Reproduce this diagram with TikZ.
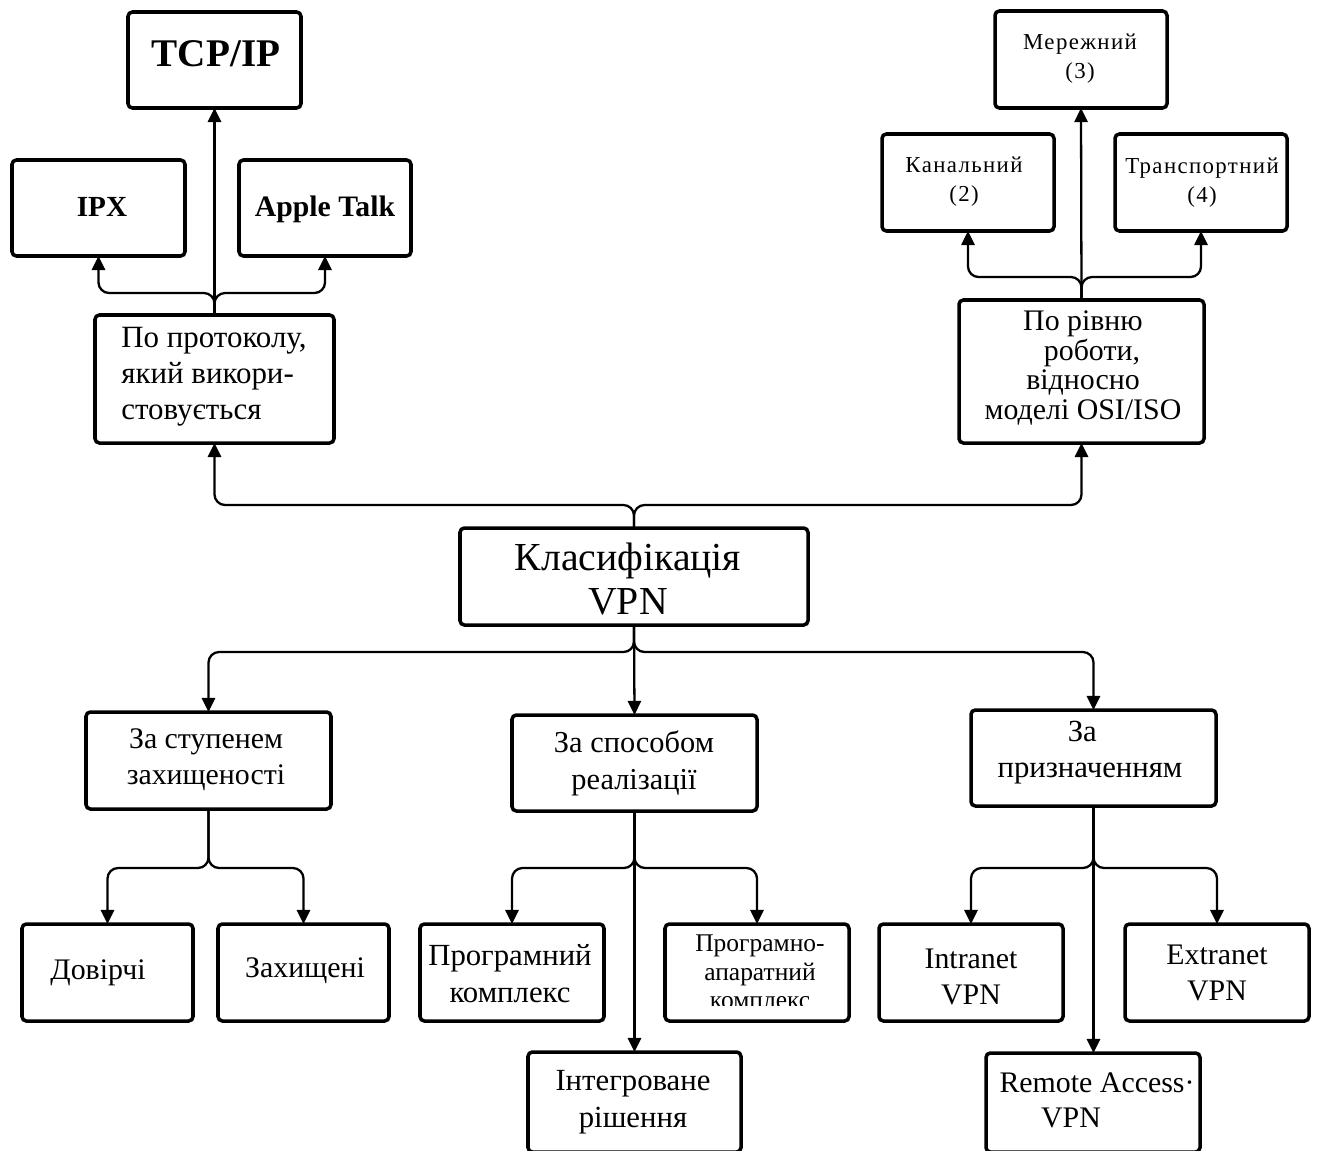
\documentclass[tikz,border=0pt]{standalone}
\usepackage{fontspec}
\setmainfont{Liberation Serif}
\newfontfamily\widefont[LetterSpace=6]{Liberation Serif}
\usetikzlibrary{arrows.meta}

\tikzset{
  box/.style 2 args={draw, line width=2pt, rounded corners=2.5pt, inner sep=0pt,
    outer sep=0pt, minimum width=#1*0.02cm, minimum height=#2*0.02cm},
  conn/.style={line width=1.3pt, rounded corners=6pt},
  arr/.style={conn, -{Triangle[length=8pt,width=7.5pt]}},
  txt/.style={inner sep=0pt, align=center, font=\fontsize{17}{20.5}\selectfont},
  smalltxt/.style={inner sep=0pt, align=center, font=\widefont\fontsize{13}{16.5}\selectfont},
}

\begin{document}
\begin{tikzpicture}[x=0.02cm, y=-0.02cm]
\clip (0,0) rectangle (1319,1150);
\fill[white] (0,0) rectangle (1319,1150);

% --- boxes ---
\node[box={173}{96}]  (tcp)    at (214.5,60)   {};
\node[box={173}{96}]  (ipx)    at (98.5,208)   {};
\node[box={172}{96}]  (apple)  at (325,208)    {};
\node[box={239}{128}] (proto)  at (214.5,379)  {};
\node[box={172}{97}]  (mer)    at (1081,59.5)  {};
\node[box={172}{97}]  (kan)    at (968,182.5)  {};
\node[box={172}{97}]  (trans)  at (1201,182.5) {};
\node[box={245}{143}] (osi)    at (1081.5,371.5) {};
\node[box={348}{97}]  (root)   at (634,576.5)  {};
\node[box={245}{97}]  (sec)    at (208.5,760.5) {};
\node[box={245}{96}]  (impl)   at (634.5,763)  {};
\node[box={245}{96}]  (purp)   at (1093.5,758) {};
\node[box={171}{97}]  (trust)  at (107.5,972.5) {};
\node[box={171}{97}]  (prot)   at (303.5,972.5) {};
\node[box={184}{97}]  (soft)   at (512,972.5)  {};
\node[box={184}{97}]  (hw)     at (757,972.5)  {};
\node[box={213}{100}] (integ)  at (634.5,1102) {};
\node[box={184}{97}]  (intra)  at (971,972.5)  {};
\node[box={184}{97}]  (extra)  at (1217,972.5) {};
\node[box={214}{99}]  (remote) at (1093,1102.5) {};

% --- labels ---
\node[txt, font=\bfseries\fontsize{22.3}{26}\selectfont] (tcpT) at (216,54) {TCP/IP};
\node[txt, font=\bfseries\fontsize{16.6}{20}\selectfont] (ipxT) at (102,207) {IPX};
\node[txt, font=\bfseries\fontsize{16.9}{20}\selectfont] (appleT) at (325,209) {Apple Talk};
\node[txt, align=left, anchor=west, font=\fontsize{17.6}{20.5}\selectfont] (protoT) at (121,377)
  {По протоколу,\\який викори-\\стовується};

\node[smalltxt] (merT)   at (1080,59)  {Мережний\\(3)};
\node[smalltxt] (kanT)   at (964,182)  {Канальний\\(2)};
\node[smalltxt] (transT) at (1202,183) {Транспортний\\(4)};
\node[txt, font=\fontsize{17}{16.8}\selectfont] (osiT) at (1083,368)
  {По рівню\\\hspace*{0.6em}роботи,\\відносно\\моделі OSI/ISO};

\node[txt, font=\fontsize{22.6}{24.5}\selectfont] (rootT) at (628,579) {Класифікація\\VPN};

\node[txt] (secT)  at (206,760) {За ступенем\\захищеності};
\node[txt, font=\fontsize{17.3}{21}\selectfont] (implT) at (634,763) {За способом\\реалізації};
\node[txt, font=\fontsize{17.5}{20.5}\selectfont] (purpT) at (1090,753) {\hspace*{-0.5em}За\\призначенням};

\node[txt] (trustT) at (98,973) {Довірчі};
\node[txt] (protT)  at (305,971) {Захищені};
\node[txt, font=\fontsize{17.5}{21}\selectfont] (softT) at (510,974) {Програмний\\комплекс};
\begin{scope}
  \clip (667,926) rectangle (847,1005);
  \node[txt, font=\fontsize{14.5}{16.2}\selectfont] (hwT) at (760,972)
    {Програмно-\\апаратний\\комплекс};
\end{scope}
\node[txt, font=\fontsize{17.5}{21}\selectfont] (integT) at (633,1102) {Інтегроване\\рішення};
\node[txt] (intraT) at (971,977) {Intranet\\VPN};
\node[txt] (extraT) at (1217,973) {Extranet\\VPN};
\node[txt] (remT1) at (1097,1083) {Remote Access·};
\node[txt] (remT2) at (1071,1118) {VPN};

% --- connectors: protocol branch ---
\draw[arr] (proto.north) -- (tcp.south);
\draw[arr] (proto.north) -- ++(0,-22) -| (ipx.south);
\draw[arr] (proto.north) -- ++(0,-22) -| (apple.south);

% --- connectors: OSI level branch ---
\draw[arr] (osi.north) -- (mer.south);
\draw[arr] (osi.north) -- ++(0,-23) -| (kan.south);
\draw[arr] (osi.north) -- ++(0,-23) -| (trans.south);

% --- connectors: root upward ---
\draw[arr] (root.north) -- ++(0,-23) -| (proto.south);
\draw[arr] (root.north) -- ++(0,-23) -| (osi.south);

% --- connectors: root downward ---
\draw[arr] (root.south) -- ++(0,27) -| (sec.north);
\draw[arr] (root.south) -- (impl.north);
\draw[arr] (root.south) -- ++(0,27) -| (purp.north);

% --- connectors: security degree ---
\draw[arr] (sec.south) -- ++(0,59) -| (trust.north);
\draw[arr] (sec.south) -- ++(0,59) -| (prot.north);

% --- connectors: implementation ---
\draw[arr] (impl.south) -- ++(0,57) -| (soft.north);
\draw[arr] (impl.south) -- ++(0,57) -| (hw.north);
\draw[arr] (impl.south) -- (integ.north);

% --- connectors: purpose ---
\draw[arr] (purp.south) -- ++(0,62) -| (intra.north);
\draw[arr] (purp.south) -- ++(0,62) -| (extra.north);
\draw[arr] (purp.south) -- (purp.south |- remote.north);
\end{tikzpicture}
\end{document}
